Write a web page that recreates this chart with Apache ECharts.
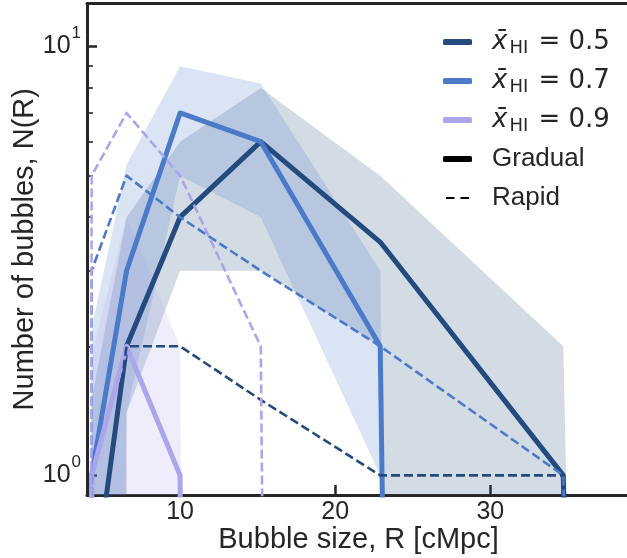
<!DOCTYPE html>
<html><head><meta charset="utf-8">
<script src="https://cdn.jsdelivr.net/npm/echarts@6/dist/echarts.min.js"></script>
<style>html,body{margin:0;padding:0;background:#fff}#c{width:627px;height:558px}</style>
</head><body><div id="c"></div>
<script>
// Bubble-size bin centres (cMpc). The first and last bins are empty (N = 0).
const binR = [2.8, 4.3, 6.55, 10, 15.2, 22.9, 34.7, 52.7];

// Mean bubble counts, gradual reionization
const gradual05 = [0, 0.5, 2, 4, 6, 3.5, 1, 0];
const gradual07 = [0, 1, 3, 7, 6, 2, 0, 0];
const gradual09 = [0, 1, 2, 1, 0, 0, 0, 0];
// Mean bubble counts, rapid reionization
const rapid05 = [0, 0.5, 2, 2, 1.5, 1, 1, 0];
const rapid07 = [0, 3, 5, 4, 3, 2, 1, 0];
const rapid09 = [0, 5, 7, 5, 2, 0, 0, 0];
// Scatter bands (gradual), upper and lower edges
const band05Upper = [0, 1.5, 4, 6, 8, 5, 2, 0];
const band05Lower = [0, 0, 1.4, 3, 3, 2, 0, 0];
const band07Upper = [0, 2.2, 5.3, 9, 8.2, 3, 0, 0];
const band07Lower = [0, 0, 1.4, 5, 4, 1, 0, 0];
const band09Upper = [0, 1.9, 4, 2, 0, 0, 0, 0];
const band09Lower = [0, 0, 0, 0, 0, 0, 0, 0];

// Axis ticks
const xTicks = [10, 20, 30];
const yMajorTicks = [1, 10];
const yMinorTicks = [2, 3, 4, 5, 6, 7, 8, 9];

const legendFractions = { x05: '0.5', x07: '0.7', x09: '0.9' };

const NAVY = '#244a7e', BLUE = '#4a7ac8', LILAC = '#aba6eb', INK = '#262626';
const SANS = '"Liberation Sans", Arial, sans-serif';
const MATH = '"DejaVu Sans", sans-serif';

// log axis: non-positive counts are clipped to a tiny floor (as matplotlib does)
const floorPos = v => (v > 0 ? v : 1e-30);

function rgba(hex, a) {
  const n = parseInt(hex.slice(1), 16);
  return 'rgba(' + (n >> 16 & 255) + ',' + (n >> 8 & 255) + ',' + (n & 255) + ',' + a + ')';
}

function clipPoly(pts, x0, y0, x1, y1) {
  const edges = [
    [p => p[0] >= x0, (a, b) => { const t = (x0 - a[0]) / (b[0] - a[0]); return [x0, a[1] + t * (b[1] - a[1])]; }],
    [p => p[0] <= x1, (a, b) => { const t = (x1 - a[0]) / (b[0] - a[0]); return [x1, a[1] + t * (b[1] - a[1])]; }],
    [p => p[1] >= y0, (a, b) => { const t = (y0 - a[1]) / (b[1] - a[1]); return [a[0] + t * (b[0] - a[0]), y0]; }],
    [p => p[1] <= y1, (a, b) => { const t = (y1 - a[1]) / (b[1] - a[1]); return [a[0] + t * (b[0] - a[0]), y1]; }]
  ];
  let out = pts;
  for (const [inside, cut] of edges) {
    const inp = out; out = [];
    if (!inp.length) break;
    for (let i = 0; i < inp.length; i++) {
      const cur = inp[i], prev = inp[(i + inp.length - 1) % inp.length];
      const ci = inside(cur), pi = inside(prev);
      if (ci) { if (!pi) out.push(cut(prev, cur)); out.push(cur); }
      else if (pi) out.push(cut(prev, cur));
    }
  }
  return out;
}

function bandSeries(upper, lower, color) {
  return {
    type: 'custom', silent: true, z: 1, xAxisIndex: 0, yAxisIndex: 0,
    data: binR.map((r, i) => [r, floorPos(upper[i]), floorPos(lower[i])]),
    renderItem: function (params, api) {
      if (params.dataIndex !== 1) return null;
      const pts = [];
      for (let i = 0; i < binR.length; i++) pts.push(api.coord([binR[i], floorPos(upper[i])]));
      for (let i = binR.length - 1; i >= 0; i--) pts.push(api.coord([binR[i], floorPos(lower[i])]));
      const cs = params.coordSys;
      const poly = clipPoly(pts, cs.x, cs.y, cs.x + cs.width, cs.y + cs.height);
      return { type: 'polygon', shape: { points: poly }, style: { fill: rgba(color, 0.2), stroke: null } };
    }
  };
}

function lineSeries(name, values, color, dashed) {
  return {
    type: 'line', name: name, z: dashed ? 4 : 3, clip: true, xAxisIndex: 0, yAxisIndex: 0,
    showSymbol: false, symbol: 'none', silent: true, animation: false,
    data: binR.map((r, i) => [r, floorPos(values[i])]),
    lineStyle: dashed ? { color: color, width: 2.6, type: [9, 4], join: 'round' }
                      : { color: color, width: 5, join: 'round' },
    itemStyle: { color: color }
  };
}

const chart = echarts.init(document.getElementById('c'), null, { renderer: 'canvas' });
chart.setOption({
  animation: false,
  backgroundColor: '#ffffff',
  grid: { left: 87, right: -3, top: 3.5, bottom: 63, containLabel: false, outerBoundsMode: 'none' },
  xAxis: [{
    type: 'value', min: 4, max: 39, position: 'bottom',
    axisLine: { show: true, onZero: false, lineStyle: { color: INK, width: 3 } },
    axisTick: { show: true, inside: true, length: 10, customValues: xTicks, lineStyle: { color: INK, width: 2.5 } },
    axisLabel: { customValues: xTicks, color: INK, fontSize: 25, fontFamily: SANS, margin: 5 },
    splitLine: { show: false },
    name: 'Bubble size, R [cMpc]', nameLocation: 'middle', nameGap: 30, nameMoveOverlap: false,
    nameTextStyle: { color: INK, fontSize: 29, fontFamily: SANS }
  }, {
    type: 'value', min: 4, max: 39, position: 'top',
    axisLine: { show: true, onZero: false, lineStyle: { color: INK, width: 3 } },
    axisTick: { show: false }, axisLabel: { show: false }, splitLine: { show: false }
  }],
  yAxis: [{
    type: 'log', logBase: 10, min: 0.9, max: 12.6, position: 'left',
    axisLine: { show: true, onZero: false, lineStyle: { color: INK, width: 3 } },
    axisTick: { show: true, inside: true, length: 10, customValues: yMajorTicks, lineStyle: { color: INK, width: 2.5 } },
    axisLabel: {
      customValues: yMajorTicks, color: INK, margin: 6,
      formatter: v => '{b|10}{s|' + Math.round(Math.log10(v)) + '}',
      rich: {
        b: { fontSize: 25, fontFamily: SANS, color: INK, lineHeight: 25, verticalAlign: 'bottom', padding: [0, 1, 0, 0] },
        s: { fontSize: 17, fontFamily: SANS, color: INK, lineHeight: 17, verticalAlign: 'bottom', padding: [0, 0, 17, 0] }
      }
    },
    splitLine: { show: false },
    name: 'Number of bubbles, N(R)', nameLocation: 'middle', nameGap: 48, nameRotate: 90, nameMoveOverlap: false,
    nameTextStyle: { color: INK, fontSize: 29, fontFamily: SANS }
  }, {
    type: 'log', logBase: 10, min: 0.9, max: 12.6, position: 'left',
    axisLine: { show: false },
    axisTick: { show: true, inside: true, length: 6, customValues: yMinorTicks, lineStyle: { color: INK, width: 1.6 } },
    axisLabel: { show: false }, splitLine: { show: false }
  }],
  legend: {
    orient: 'vertical', left: 443, top: 27, padding: 0, itemGap: 9,
    itemWidth: 29, itemHeight: 6, selectedMode: false,
    data: [
      { name: 'x05', icon: 'roundRect', itemStyle: { color: NAVY, borderWidth: 0 } },
      { name: 'x07', icon: 'roundRect', itemStyle: { color: BLUE, borderWidth: 0 } },
      { name: 'x09', icon: 'roundRect', itemStyle: { color: LILAC, borderWidth: 0 } },
      { name: 'Gradual', icon: 'roundRect', itemStyle: { color: '#000', borderWidth: 0 } },
      { name: 'Rapid', icon: 'path://M0,0h0.01v0.01h-0.01z M0,2.2h10v2.6h-10z M17,2.2h10v2.6h-10z M27,7h0.01v0.01h-0.01z', itemStyle: { color: '#000', borderWidth: 0 } }
    ],
    formatter: function (name) {
      if (legendFractions[name]) return '{x|x\u0304}{h|HI}{t| = ' + legendFractions[name] + '}';
      return '{w|' + name + '}';
    },
    textStyle: {
      color: INK, lineHeight: 30, padding: [0, 0, 0, 15],
      rich: {
        x: { fontFamily: MATH, fontStyle: 'italic', fontSize: 26, color: INK, lineHeight: 30 },
        h: { fontFamily: MATH, fontSize: 18, color: INK, lineHeight: 18, verticalAlign: 'bottom', padding: [0, 2, 0, 2] },
        t: { fontFamily: MATH, fontSize: 26, color: INK, lineHeight: 30 },
        w: { fontFamily: SANS, fontSize: 26, color: INK, lineHeight: 30 }
      }
    }
  },
  series: [
    bandSeries(band05Upper, band05Lower, NAVY),
    bandSeries(band07Upper, band07Lower, BLUE),
    bandSeries(band09Upper, band09Lower, LILAC),
    lineSeries('x05', gradual05, NAVY, false),
    lineSeries('x07', gradual07, BLUE, false),
    lineSeries('x09', gradual09, LILAC, false),
    lineSeries('x05', rapid05, NAVY, true),
    lineSeries('x07', rapid07, BLUE, true),
    lineSeries('x09', rapid09, LILAC, true),
    { type: 'line', name: 'Gradual', data: [], itemStyle: { color: '#000' } },
    { type: 'line', name: 'Rapid', data: [], itemStyle: { color: '#000' } }
  ]
});
</script>
</body></html>
